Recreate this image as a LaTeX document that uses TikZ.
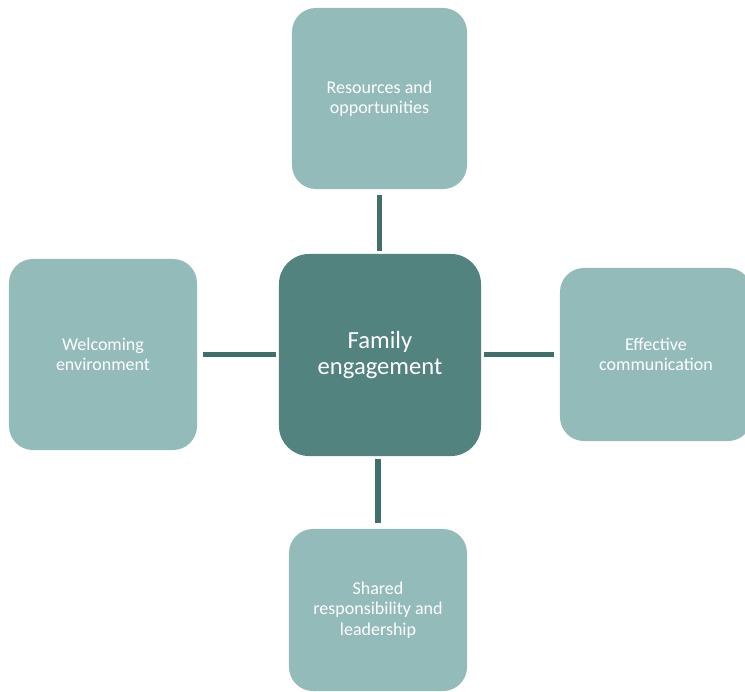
\documentclass[tikz,border=0pt]{standalone}
\usepackage{fontspec}
\setmainfont{Carlito}
\definecolor{hub}{HTML}{52837F}
\definecolor{leaf}{HTML}{93BBBA}
\definecolor{link}{HTML}{3F6E6B}

\begin{document}
\begin{tikzpicture}[x=0.025cm,y=-0.025cm,
    hubbox/.style={fill=hub,text=white,rounded corners=0.75cm,inner sep=0pt,
      align=center,font=\fontsize{17.5}{18.8}\selectfont},
    leafbox/.style={fill=leaf,text=white,rounded corners=0.6cm,inner sep=0pt,
      align=center,font=\fontsize{12.8}{14.4}\selectfont},
    spoke/.style={draw=link,line width=3.6pt,shorten <=4pt,shorten >=4pt}]
  \useasboundingbox (0,0) rectangle (745,692);
  % centre
  \node[hubbox,minimum width=5.05cm,minimum height=5.05cm] (family) at (380,355)
    {Family\\engagement};
  % the four areas
  \node[leafbox,minimum width=4.375cm,minimum height=4.525cm] (resources) at (379.5,98.5)
    {Resources and\\opportunities};
  \node[leafbox,minimum width=4.7cm,minimum height=4.775cm] (welcoming) at (103,354.5)
    {Welcoming\\environment};
  \node[leafbox,minimum width=4.8cm,minimum height=4.325cm] (effective) at (656,354.5)
    {Effective\\communication};
  \node[leafbox,minimum width=4.45cm,minimum height=4.05cm] (shared) at (378,610)
    {Shared\\responsibility and\\leadership};
  % spokes
  \draw[spoke,shorten >=2pt] (resources.south) -- (resources.south |- family.north);
  \draw[spoke,shorten >=2pt] (welcoming.east) -- (welcoming.east -| family.west);
  \draw[spoke,shorten <=2pt] (family.east |- effective.west) -- (effective.west);
  \draw[spoke,shorten <=2pt] (shared.north |- family.south) -- (shared.north);
\end{tikzpicture}
\end{document}
